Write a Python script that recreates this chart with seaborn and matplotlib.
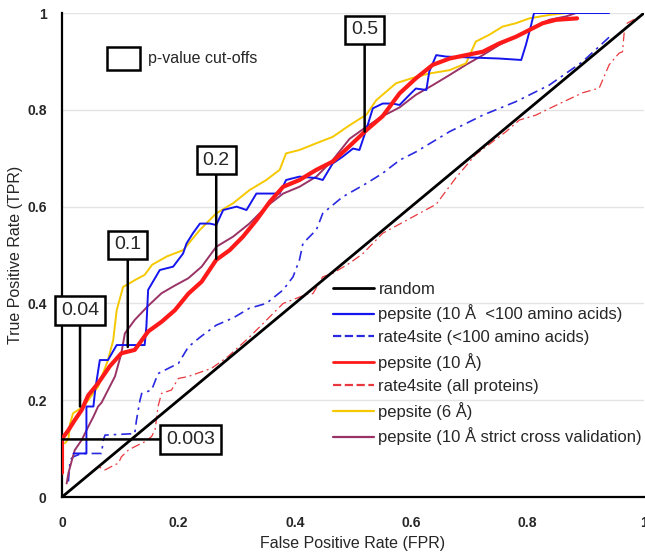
import matplotlib
matplotlib.use("Agg")
import matplotlib.pyplot as plt
import seaborn as sns
from matplotlib.lines import Line2D
from matplotlib.patches import Rectangle

# ROC curves (FPR, TPR)
random_x = [0, 1]
random_y = [0, 1]

pep10_x = [0, 0, 0.011, 0.022, 0.034, 0.045, 0.062, 0.082, 0.102, 0.125, 0.148, 0.171, 0.194, 0.217,
           0.24, 0.265, 0.288, 0.311, 0.334, 0.357, 0.38, 0.408, 0.437, 0.465, 0.494, 0.523, 0.551,
           0.58, 0.608, 0.637, 0.666, 0.694, 0.723, 0.751, 0.78, 0.803, 0.826, 0.849, 0.885]
pep10_y = [0.05, 0.12, 0.138, 0.159, 0.18, 0.21, 0.235, 0.27, 0.297, 0.304, 0.342, 0.362, 0.386, 0.42,
           0.445, 0.49, 0.51, 0.538, 0.572, 0.61, 0.641, 0.655, 0.676, 0.693, 0.725, 0.758, 0.787,
           0.834, 0.865, 0.893, 0.906, 0.913, 0.92, 0.937, 0.951, 0.965, 0.979, 0.986, 0.989]

pep6_x = [0.005, 0.011, 0.014, 0.019, 0.028, 0.037, 0.045, 0.062, 0.079, 0.088, 0.094, 0.105, 0.125,
          0.142, 0.155, 0.18, 0.208, 0.237, 0.265, 0.294, 0.322, 0.351, 0.374, 0.385, 0.408, 0.437,
          0.465, 0.494, 0.523, 0.54, 0.574, 0.608, 0.631, 0.666, 0.694, 0.711, 0.734, 0.757, 0.78,
          0.803, 0.837, 0.866, 0.911]
pep6_y = [0.111, 0.12, 0.152, 0.173, 0.18, 0.187, 0.2, 0.228, 0.283, 0.324, 0.386, 0.434, 0.448,
          0.459, 0.48, 0.497, 0.51, 0.552, 0.586, 0.607, 0.634, 0.655, 0.676, 0.71, 0.717, 0.731,
          0.744, 0.768, 0.79, 0.82, 0.855, 0.868, 0.875, 0.882, 0.896, 0.941, 0.955, 0.972, 0.979,
          0.989, 0.996, 1.0, 1.0]

pep100_x = [0.02, 0.042, 0.042, 0.054, 0.057, 0.065, 0.079, 0.094, 0.142, 0.145, 0.148, 0.168, 0.191,
            0.208, 0.214, 0.225, 0.237, 0.254, 0.265, 0.277, 0.3, 0.317, 0.334, 0.374, 0.385, 0.408,
            0.437, 0.448, 0.465, 0.482, 0.5, 0.511, 0.523, 0.534, 0.551, 0.568, 0.58, 0.597, 0.608,
            0.626, 0.631, 0.643, 0.66, 0.751, 0.789, 0.797, 0.806, 0.811, 0.94]
pep100_y = [0.09, 0.09, 0.187, 0.187, 0.221, 0.283, 0.283, 0.314, 0.314, 0.352, 0.428, 0.469, 0.476,
            0.503, 0.524, 0.545, 0.565, 0.565, 0.562, 0.593, 0.6, 0.593, 0.627, 0.627, 0.655, 0.662,
            0.659, 0.655, 0.689, 0.703, 0.72, 0.717, 0.76, 0.803, 0.813, 0.813, 0.81, 0.831, 0.844,
            0.841, 0.879, 0.913, 0.91, 0.906, 0.903, 0.934, 0.975, 1.0, 1.0]

strict_x = [0.008, 0.011, 0.017, 0.022, 0.034, 0.045, 0.054, 0.062, 0.068, 0.079, 0.091, 0.102, 0.108,
            0.125, 0.148, 0.171, 0.194, 0.217, 0.24, 0.265, 0.294, 0.322, 0.351, 0.38, 0.408, 0.437,
            0.465, 0.494, 0.523, 0.551, 0.58, 0.608, 0.637, 0.666, 0.694, 0.723, 0.751, 0.78, 0.808,
            0.837, 0.866, 0.883]
strict_y = [0.028, 0.049, 0.076, 0.097, 0.118, 0.145, 0.166, 0.187, 0.195, 0.221, 0.249, 0.297, 0.338,
            0.366, 0.395, 0.421, 0.437, 0.452, 0.476, 0.517, 0.538, 0.565, 0.6, 0.627, 0.641, 0.662,
            0.696, 0.74, 0.765, 0.787, 0.805, 0.831, 0.851, 0.872, 0.893, 0.913, 0.934, 0.951, 0.968,
            0.986, 0.993, 1.0]

r4s100_x = [0.011, 0.014, 0.019, 0.034, 0.068, 0.071, 0.074, 0.125, 0.128, 0.134, 0.137, 0.154, 0.165,
            0.188, 0.2, 0.217, 0.237, 0.265, 0.294, 0.322, 0.351, 0.38, 0.397, 0.408, 0.414, 0.437,
            0.448, 0.482, 0.523, 0.551, 0.58, 0.608, 0.666, 0.723, 0.78, 0.837, 0.894, 0.94]
r4s100_y = [0.032, 0.076, 0.083, 0.09, 0.09, 0.118, 0.128, 0.131, 0.159, 0.2, 0.214, 0.221, 0.255,
            0.269, 0.276, 0.31, 0.33, 0.355, 0.37, 0.39, 0.4, 0.428, 0.455, 0.49, 0.524, 0.552,
            0.586, 0.62, 0.648, 0.669, 0.696, 0.713, 0.755, 0.789, 0.817, 0.851, 0.899, 0.95]

r4sall_x = [0, 0.062, 0.074, 0.085, 0.097, 0.102, 0.114, 0.125, 0.142, 0.154, 0.16, 0.165, 0.171,
            0.188, 0.2, 0.217, 0.257, 0.285, 0.32, 0.38, 0.425, 0.431, 0.448, 0.465, 0.494, 0.517,
            0.551, 0.574, 0.643, 0.677, 0.711, 0.763, 0.786, 0.814, 0.843, 0.894, 0.923, 0.94, 0.957,
            0.963, 0.966, 0.971, 0.997]
r4sall_y = [0, 0.063, 0.056, 0.063, 0.07, 0.083, 0.097, 0.104, 0.114, 0.125, 0.14, 0.187, 0.214,
            0.221, 0.245, 0.249, 0.266, 0.29, 0.328, 0.4, 0.421, 0.42, 0.455, 0.462, 0.483, 0.503,
            0.545, 0.56, 0.605, 0.66, 0.708, 0.755, 0.779, 0.789, 0.806, 0.835, 0.845, 0.893, 0.917,
            0.92, 0.961, 0.979, 0.996]

# p-value cut-off annotations
cut_labels = ['0.003', '0.04', '0.1', '0.2', '0.5']
cut_x = [0.0, 0.031, 0.113, 0.265, 0.52]
cut_y = [0.119, 0.187, 0.31, 0.492, 0.755]
cut_box_x = [0.221, 0.031, 0.113, 0.265, 0.52]
cut_box_y = [0.119, 0.386, 0.521, 0.696, 0.965]

ticks = [0, 0.2, 0.4, 0.6, 0.8, 1]
tick_labels = ['0', '0.2', '0.4', '0.6', '0.8', '1']

sns.set_style("white")
plt.rcParams['font.family'] = ['Liberation Sans', 'DejaVu Sans']

fig, ax = plt.subplots(figsize=(6.45, 5.52), dpi=100)
fig.subplots_adjust(left=0.0961, right=0.9985, bottom=0.0996, top=0.9764)

def draw(x, y, color, lw, dashes=None, z=2):
    sns.lineplot(x=x, y=y, ax=ax, color=color, linewidth=lw, estimator=None,
                 sort=False, legend=False, zorder=z)
    if dashes is not None:
        ax.lines[-1].set_dashes(dashes)

draw(r4sall_x, r4sall_y, '#e8383d', 0.9, dashes=(7, 3, 1.5, 3), z=2)
draw(r4s100_x, r4s100_y, '#2a2ae0', 1.2, dashes=(6, 3, 1.5, 3), z=2)
draw(random_x, random_y, 'black', 2.0, z=3)
draw(strict_x, strict_y, '#993366', 1.4, z=3)
draw(pep6_x, pep6_y, '#f5c800', 1.4, z=3)
draw(pep100_x, pep100_y, '#1515ee', 1.4, z=4)
draw(pep10_x, pep10_y, '#ff1a1a', 3.0, z=5)

ax.set_xlim(0, 1)
ax.set_ylim(0, 1)
ax.set_xticks(ticks)
ax.set_xticklabels(tick_labels)
ax.set_yticks(ticks)
ax.set_yticklabels(tick_labels)
ax.tick_params(axis='x', direction='out', length=4, width=1.5, pad=10, labelsize=10)
ax.tick_params(axis='y', direction='out', length=5, width=1.5, pad=6, labelsize=10)
for lab in ax.get_xticklabels() + ax.get_yticklabels():
    lab.set_fontweight('bold')

ax.yaxis.grid(True, color='#e4e4e4', linewidth=1)
ax.xaxis.grid(False)
sns.despine(ax=ax)
for side in ['left', 'bottom']:
    ax.spines[side].set_color('black')
    ax.spines[side].set_linewidth(1.6)

ax.set_xlabel('False Positive Rate (FPR)', fontsize=11.5, labelpad=4)
ax.set_ylabel('True Positive Rate (TPR)', fontsize=11.5, labelpad=3)

# cut-off boxes
for lab, px, py, bx, by in zip(cut_labels, cut_x, cut_y, cut_box_x, cut_box_y):
    ax.annotate(lab, xy=(px, py), xytext=(bx, by), ha='center', va='center',
                fontsize=14, annotation_clip=False, zorder=6,
                bbox=dict(boxstyle='square,pad=0.3', fc='white', ec='black', lw=1.8),
                arrowprops=dict(arrowstyle='-', color='black', lw=1.8, shrinkA=0, shrinkB=0))

ax.add_patch(Rectangle((0.077, 0.882), 0.057, 0.048, fill=False, ec='black', lw=1.8,
                       transform=ax.transAxes))
ax.text(0.148, 0.907, 'p-value cut-offs', transform=ax.transAxes, va='center', fontsize=11.5)

handles = [
    Line2D([], [], color='black', lw=2.0),
    Line2D([], [], color='#1515ee', lw=1.6),
    Line2D([], [], color='#2a2ae0', lw=1.6, ls='--'),
    Line2D([], [], color='#ff1a1a', lw=2.0),
    Line2D([], [], color='#e8383d', lw=1.6, ls='--'),
    Line2D([], [], color='#f5c800', lw=1.6),
    Line2D([], [], color='#993366', lw=1.6),
]
labels = ['random', 'pepsite (10 Å  <100 amino acids)', 'rate4site (<100 amino acids)',
          'pepsite (10 Å)', 'rate4site (all proteins)', 'pepsite (6 Å)',
          'pepsite (10 Å strict cross validation)']
ax.legend(handles, labels, loc='upper left', bbox_to_anchor=(0.465, 0.445), frameon=False,
          fontsize=12, borderpad=0, borderaxespad=0, handlelength=2.5, handletextpad=0.25,
          labelspacing=0.47)

fig.savefig('out.png', dpi=100)
